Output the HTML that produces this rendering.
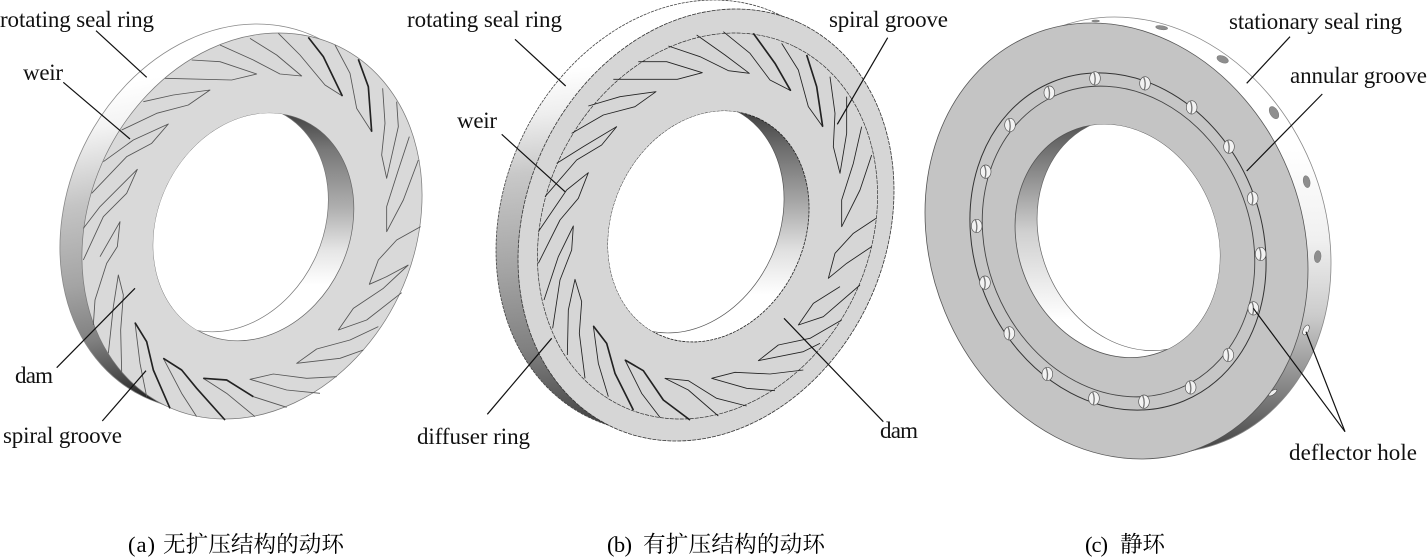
<!DOCTYPE html>
<html><head><meta charset="utf-8"><style>
html,body{margin:0;padding:0;background:#fff;width:1427px;height:557px;overflow:hidden}
svg{display:block}
.t{font-family:"Liberation Serif","Noto Serif CJK SC",serif;font-size:23px;fill:#111}
.c{font-family:"Liberation Serif","Noto Serif CJK SC",serif;font-size:22.6px;fill:#000}
.g polyline{fill:none;stroke:#555;stroke-width:2.6;stroke-linejoin:round}
.gb polyline{fill:none;stroke:#222;stroke-width:2.6;stroke-linejoin:round}
.dk polyline{fill:none;stroke:#222;stroke-width:5;stroke-linejoin:round}
.l line{stroke:#111;stroke-width:1.2}
</style></head><body>
<svg width="1427" height="557" viewBox="0 0 1427 557" xmlns="http://www.w3.org/2000/svg">
<defs>
<linearGradient id="sa" gradientUnits="userSpaceOnUse" x1="90" y1="90" x2="150" y2="400">
<stop offset="0" stop-color="#fff"/><stop offset=".12" stop-color="#f4f4f4"/><stop offset=".35" stop-color="#c4c4c4"/><stop offset=".6" stop-color="#a4a4a4"/><stop offset=".78" stop-color="#808080"/><stop offset=".9" stop-color="#505050"/><stop offset="1" stop-color="#222"/></linearGradient>
<linearGradient id="wa" gradientUnits="userSpaceOnUse" x1="0" y1="115" x2="0" y2="285">
<stop offset="0" stop-color="#444"/><stop offset=".2" stop-color="#777"/><stop offset=".55" stop-color="#b0b0b0"/><stop offset=".8" stop-color="#e6e6e6"/><stop offset="1" stop-color="#fff"/></linearGradient>
<linearGradient id="sb" gradientUnits="userSpaceOnUse" x1="560" y1="70" x2="600" y2="420">
<stop offset="0" stop-color="#fff"/><stop offset=".12" stop-color="#eee"/><stop offset=".28" stop-color="#c8c8c8"/><stop offset=".55" stop-color="#a4a4a4"/><stop offset=".78" stop-color="#808080"/><stop offset="1" stop-color="#444"/></linearGradient>
<linearGradient id="wb" gradientUnits="userSpaceOnUse" x1="0" y1="115" x2="0" y2="295">
<stop offset="0" stop-color="#444"/><stop offset=".2" stop-color="#707070"/><stop offset=".5" stop-color="#aaa"/><stop offset=".75" stop-color="#e0e0e0"/><stop offset="1" stop-color="#fff"/></linearGradient>
<linearGradient id="sc" gradientUnits="userSpaceOnUse" x1="0" y1="150" x2="0" y2="450">
<stop offset="0" stop-color="#fff"/><stop offset=".3" stop-color="#f0f0f0"/><stop offset=".55" stop-color="#ccc"/><stop offset=".78" stop-color="#8a8a8a"/><stop offset="1" stop-color="#444"/></linearGradient>
<linearGradient id="wc" gradientUnits="userSpaceOnUse" x1="0" y1="125" x2="0" y2="320">
<stop offset="0" stop-color="#555"/><stop offset=".25" stop-color="#8c8c8c"/><stop offset=".55" stop-color="#d0d0d0"/><stop offset="1" stop-color="#fff"/></linearGradient>
<clipPath id="ca"><ellipse cx="253.5" cy="227" rx="117.6" ry="95.9" transform="rotate(-64.3 253.5 227)"/></clipPath>
<clipPath id="cb"><ellipse cx="708.5" cy="226.5" rx="119" ry="96.3" transform="rotate(-65.6 708.5 226.5)"/></clipPath>
<clipPath id="cc"><ellipse cx="1117.5" cy="241" rx="119.3" ry="99.3" transform="rotate(67.6 1117.5 241)"/></clipPath>
<clipPath id="oa"><ellipse cx="230" cy="217" rx="199.4" ry="162.5" transform="rotate(-64.3 230 217)"/><ellipse cx="241" cy="221.5" rx="199.4" ry="162.5" transform="rotate(-64.3 241 221.5)"/></clipPath>
<clipPath id="ob"><ellipse cx="684" cy="216" rx="222.7" ry="180" transform="rotate(-65.6 684 216)"/><ellipse cx="695" cy="220.5" rx="222.7" ry="180" transform="rotate(-65.6 695 220.5)"/></clipPath>
<clipPath id="oc"><ellipse cx="1139.5" cy="235" rx="223" ry="185.6" transform="rotate(67.6 1139.5 235)"/><ellipse cx="1128" cy="238" rx="223" ry="185.6" transform="rotate(67.6 1128 238)"/></clipPath>
<g id="h"><ellipse rx="16" ry="20" fill="#f2f2f2" stroke="#555" stroke-width="2"/><path d="M-4,-19 Q4,0 -2,19" fill="none" stroke="#777" stroke-width="4"/></g>
</defs>

<!-- Ring A -->
<rect x="30" y="0" width="410" height="440" fill="url(#sa)" clip-path="url(#oa)"/>
<ellipse cx="230" cy="217" rx="199.4" ry="162.5" transform="rotate(-64.3 230 217)" fill="none" stroke="#888" stroke-width=".8"/>
<ellipse cx="252" cy="226" rx="199.4" ry="162.5" transform="rotate(-64.3 252 226)" fill="#d9d9d9" stroke="#777" stroke-width=".7"/>
<rect x="130" y="100" width="240" height="260" fill="url(#wa)" clip-path="url(#ca)"/>
<ellipse cx="253.5" cy="227" rx="117.6" ry="95.9" transform="rotate(-64.3 253.5 227)" fill="none" stroke="#666" stroke-width=".7"/>
<g clip-path="url(#ca)"><ellipse cx="228" cy="218" rx="117.6" ry="95.9" transform="rotate(-64.3 228 218)" fill="#fff" stroke="#777" stroke-width=".7"/></g>
<g class="g" transform="scale(.33333)">
<polyline points="575,180 660,185 770,222 695,240 495,235"/>
<polyline points="750,115 830,165 905,228 840,222 760,180 660,135"/>
<polyline points="925,112 970,170 1027,288 975,255 900,165 835,100"/>
<polyline points="1075,178 1105,260 1115,395 1070,325 1050,220 1005,135"/>
<polyline points="1190,305 1195,380 1160,535 1145,465 1155,370 1148,265"/>
<polyline points="1255,480 1210,600 1160,695 1160,620 1195,510 1228,410"/>
<polyline points="1225,795 1160,830 1108,853 1135,780 1190,720 1262,680"/>
<polyline points="1205,878 1100,960 1015,990 1060,925 1150,865 1225,795"/>
<polyline points="1090,1050 1020,1075 890,1090 950,1047 1050,1020 1135,980"/>
<polyline points="960,1180 860,1170 750,1138 820,1122 920,1135 1010,1130"/>
<polyline points="765,1250 680,1180 610,1135 680,1140 760,1190 860,1222"/>
<polyline points="590,1250 545,1180 490,1075 545,1110 590,1165 675,1260"/>
<polyline points="440,1190 420,1090 405,968 440,1025 460,1110 510,1225"/>
<polyline points="325,1060 340,920 355,825 370,885 362,990 365,1115"/>
<polyline points="300,770 360,665 352,740 320,790 285,900 280,975"/>
<polyline points="250,685 300,620 412,508 380,580 310,650 250,780"/>
<polyline points="310,485 400,420 505,372 455,430 380,470 275,580"/>
<polyline points="430,305 520,285 630,270 565,315 470,340 365,390"/>
</g>
<g class="dk" transform="scale(.33333)">
<polyline points="925,112 970,170 1027,288"/>
<polyline points="1075,178 1105,260 1115,395"/>
<polyline points="490,1075 545,1110 590,1165 675,1260"/>
<polyline points="405,968 440,1025 460,1110 510,1225"/>
<polyline points="610,1135 680,1140 760,1190"/>
</g>

<!-- Ring B -->
<rect x="470" y="0" width="450" height="450" fill="url(#sb)" clip-path="url(#ob)"/>
<ellipse cx="684" cy="216" rx="222.7" ry="180" transform="rotate(-65.6 684 216)" fill="none" stroke="#444" stroke-width=".8" stroke-dasharray="3 1"/>
<ellipse cx="706" cy="225" rx="222.7" ry="180" transform="rotate(-65.6 706 225)" fill="#d6d6d6" stroke="#333" stroke-width=".8" stroke-dasharray="4 1"/>
<ellipse cx="707.5" cy="226" rx="199.4" ry="162.5" transform="rotate(-64.3 707.5 226)" fill="#d6d6d6" stroke="#333" stroke-width=".7" stroke-dasharray="4 1"/>
<rect x="590" y="100" width="240" height="260" fill="url(#wb)" clip-path="url(#cb)"/>
<ellipse cx="708.5" cy="226.5" rx="119" ry="96.3" transform="rotate(-65.6 708.5 226.5)" fill="none" stroke="#222" stroke-width=".8" stroke-dasharray="3 1"/>
<g clip-path="url(#cb)"><ellipse cx="683.5" cy="217.5" rx="119" ry="96.3" transform="rotate(-65.6 683.5 217.5)" fill="#fff" stroke="#555" stroke-width=".7"/></g>
<g class="gb" transform="translate(470 0) scale(.33333)">
<polyline points="505,185 590,185 697,218 622,238 430,238"/>
<polyline points="680,105 765,165 838,220 775,212 690,170 595,138"/>
<polyline points="850,100 915,190 962,272 900,240 840,160 760,95"/>
<polyline points="1010,165 1040,260 1058,380 1015,320 985,210 935,130"/>
<polyline points="1130,290 1130,400 1110,520 1090,440 1095,340 1080,230"/>
<polyline points="1205,465 1170,570 1115,680 1115,600 1150,490 1175,380"/>
<polyline points="1205,740 1130,790 1075,835 1095,760 1150,700 1218,655"/>
<polyline points="1110,860 1030,910 985,975 1060,950 1170,855"/>
<polyline points="1050,1030 1000,1055 865,1082 925,1035 1020,1015 1115,960"/>
<polyline points="915,1172 830,1165 725,1135 795,1117 900,1122 1000,1110"/>
<polyline points="745,1248 655,1170 585,1135 655,1142 740,1195 830,1218"/>
<polyline points="570,1252 515,1180 465,1080 520,1112 580,1200 660,1260"/>
<polyline points="415,1190 385,1090 370,978 410,1030 435,1120 490,1230"/>
<polyline points="292,1065 295,930 315,838 335,905 328,1000 345,1135"/>
<polyline points="222,900 265,770 310,678 305,750 270,840 248,985"/>
<polyline points="205,695 290,570 355,518 325,595 270,660 205,790"/>
<polyline points="260,490 340,440 440,380 395,435 320,480 225,590"/>
<polyline points="355,318 450,290 558,275 495,320 400,345 305,400"/>
</g>
<g class="dk" transform="translate(470 0) scale(.33333)">
<polyline points="850,100 915,190 962,272"/>
<polyline points="1010,165 1040,260 1058,380"/>
<polyline points="465,1080 520,1112 580,1200 660,1260"/>
<polyline points="370,978 410,1030 435,1120 490,1230"/>
</g>

<!-- Ring C -->
<rect x="1060" y="0" width="300" height="460" fill="url(#sc)" clip-path="url(#oc)"/>
<ellipse cx="1139.5" cy="235" rx="223" ry="185.6" transform="rotate(67.6 1139.5 235)" fill="none" stroke="#888" stroke-width=".8"/>
<g transform="translate(920 0) scale(.33333)" fill="#8e8e8e" stroke="#777" stroke-width="1.5">
<ellipse cx="527" cy="63" rx="12" ry="3"/>
<ellipse cx="725" cy="83" rx="18" ry="6" transform="rotate(8 725 83)"/>
<ellipse cx="908" cy="178" rx="18" ry="10" transform="rotate(22 908 178)"/>
<ellipse cx="1062" cy="338" rx="12" ry="20" transform="rotate(-30 1062 338)"/>
<ellipse cx="1160" cy="545" rx="10" ry="18" transform="rotate(-12 1160 545)"/>
<ellipse cx="1193" cy="770" rx="10" ry="18" transform="rotate(5 1193 770)"/>
<ellipse cx="1158" cy="990" rx="8" ry="16" transform="rotate(25 1158 990)" fill="#f4f4f4" stroke="#333"/>
<ellipse cx="1058" cy="1178" rx="15" ry="6" transform="rotate(-35 1058 1178)" fill="#eee" stroke="#333"/>
</g>
<ellipse cx="1116.5" cy="241" rx="223" ry="185.6" transform="rotate(67.6 1116.5 241)" fill="#c4c4c4" stroke="#555" stroke-width=".8"/>
<ellipse cx="1118" cy="241.5" rx="172.5" ry="143.5" transform="rotate(67.6 1118 241.5)" fill="#c6c6c6" stroke="#333" stroke-width="1"/>
<ellipse cx="1118.5" cy="241.5" rx="159" ry="132" transform="rotate(67.6 1118.5 241.5)" fill="#c4c4c4" stroke="#444" stroke-width=".9"/>
<rect x="1000" y="110" width="240" height="260" fill="url(#wc)" clip-path="url(#cc)"/>
<ellipse cx="1117.5" cy="241" rx="119.3" ry="99.3" transform="rotate(67.6 1117.5 241)" fill="none" stroke="#555" stroke-width=".8"/>
<g clip-path="url(#cc)"><ellipse cx="1139.5" cy="234" rx="119.3" ry="99.3" transform="rotate(67.6 1139.5 234)" fill="#fff" stroke="#666" stroke-width=".7"/></g>
<g transform="translate(920 0) scale(.33333)">
<use href="#h" x="525" y="235"/><use href="#h" x="675" y="250"/><use href="#h" x="815" y="322"/><use href="#h" x="927" y="440"/><use href="#h" x="998" y="595"/><use href="#h" x="1022" y="762"/><use href="#h" x="1000" y="925"/><use href="#h" x="925" y="1065"/><use href="#h" x="812" y="1162"/><use href="#h" x="672" y="1205"/><use href="#h" x="522" y="1195"/><use href="#h" x="382" y="1122"/><use href="#h" x="268" y="1000"/><use href="#h" x="195" y="848"/><use href="#h" x="170" y="678"/><use href="#h" x="197" y="515"/><use href="#h" x="270" y="375"/><use href="#h" x="388" y="278"/>
</g>

<!-- Leaders -->
<g class="l">
<line x1="96" y1="30.7" x2="146.7" y2="77.3"/><line x1="63.3" y1="82.3" x2="130" y2="139"/><line x1="135" y1="288.3" x2="56.7" y2="367.7"/><line x1="146" y1="370.7" x2="102.3" y2="421"/>
<line x1="515" y1="39.3" x2="565.7" y2="86"/><line x1="501.7" y1="134.3" x2="565" y2="191.7"/><line x1="551.7" y1="338.3" x2="487.3" y2="414.3"/><line x1="887.7" y1="37.7" x2="837.3" y2="124.3"/><line x1="784" y1="318.3" x2="883.3" y2="421.7"/>
<line x1="1290" y1="36.7" x2="1246.7" y2="83.3"/><line x1="1322.3" y1="94" x2="1246.7" y2="171"/><line x1="1253.3" y1="308.3" x2="1345" y2="431.7"/><line x1="1306" y1="331.7" x2="1345" y2="431.7"/>
</g>

<!-- Labels -->
<text class="t" x="0" y="27" textLength="154">rotating seal ring</text>
<text class="t" x="23" y="80" textLength="40">weir</text>
<text class="t" x="15" y="383" textLength="38">dam</text>
<text class="t" x="3" y="443" textLength="119">spiral groove</text>
<text class="t" x="407" y="27" textLength="155">rotating seal ring</text>
<text class="t" x="457" y="128" textLength="40">weir</text>
<text class="t" x="829" y="27" textLength="119">spiral groove</text>
<text class="t" x="417" y="444" textLength="113">diffuser ring</text>
<text class="t" x="880" y="438" textLength="38">dam</text>
<text class="t" x="1229" y="29" textLength="173">stationary seal ring</text>
<text class="t" x="1290" y="83" textLength="137">annular groove</text>
<text class="t" x="1289" y="460" textLength="128">deflector hole</text>

<text class="c" x="128" y="552" textLength="27">(a)</text>
<text class="c" x="163" y="552" textLength="181">无扩压结构的动环</text>
<text class="c" x="607" y="552" textLength="25">(b)</text>
<text class="c" x="643" y="552" textLength="182">有扩压结构的动环</text>
<text class="c" x="1085" y="552" textLength="23">(c)</text>
<text class="c" x="1120" y="552" textLength="45">静环</text>
</svg>
</body></html>
